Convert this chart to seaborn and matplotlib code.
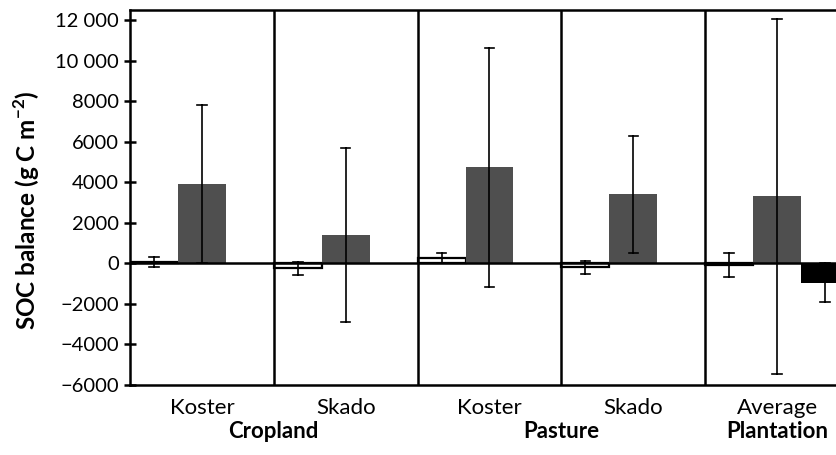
import numpy as np
import pandas as pd
import matplotlib
matplotlib.use("Agg")
import matplotlib.pyplot as plt
import seaborn as sns

# bar groups (x categories) and their labels
sites = ['Cropland Koster', 'Cropland Skado', 'Pasture Koster', 'Pasture Skado', 'Plantation Average']
site_labels = ['Koster', 'Skado', 'Koster', 'Skado', 'Average']
land_uses = ['Cropland', 'Pasture', 'Plantation']
land_use_pos = [0.5, 2.5, 4.0]

series = ['white', 'gray', 'black']
# mean values (g C m-2), NaN = no bar
white_vals = [50, -250, 250, -200, -80]
white_err = [250, 300, 250, 330, 600]
gray_vals = [3900, 1400, 4750, 3400, 3300]
gray_err = [3900, 4300, 5900, 2900, 8750]
black_vals = [np.nan, np.nan, np.nan, np.nan, -950]
black_err = [np.nan, np.nan, np.nan, np.nan, 960]

yticks = [-6000, -4000, -2000, 0, 2000, 4000, 6000, 8000, 10000, 12000]

# long form table: two rows per bar (mean - err, mean + err) so the
# mean gives the bar and min/max give the error bar
rows = []
for name, vals, errs in [('white', white_vals, white_err),
                         ('gray', gray_vals, gray_err),
                         ('black', black_vals, black_err)]:
    for s, v, e in zip(sites, vals, errs):
        if np.isnan(v):
            continue
        rows.append({'site': s, 'series': name, 'value': v - e})
        rows.append({'site': s, 'series': name, 'value': v + e})
df = pd.DataFrame(rows)

plt.rcParams['font.family'] = ['Lato', 'DejaVu Sans']
plt.rcParams['mathtext.fontset'] = 'custom'
plt.rcParams['mathtext.rm'] = 'Lato'
plt.rcParams['mathtext.bf'] = 'Lato:bold'

fig = plt.figure(figsize=(8.37, 4.55), dpi=100)
ax = fig.add_axes([130 / 837, 1 - 385 / 455, 719 / 837, 375 / 455])

sns.barplot(data=df, x='site', y='value', hue='series', order=sites,
            hue_order=series,
            palette={'white': 'white', 'gray': '#4f4f4f', 'black': 'black'},
            width=1, estimator='mean',
            errorbar=lambda v: (v.min(), v.max()),
            capsize=0.2, err_kws={'color': 'black', 'linewidth': 1.2},
            legend=False, ax=ax)

for bar in ax.containers[0]:
    bar.set_edgecolor('black')
    bar.set_linewidth(1.6)

ax.axhline(0, color='black', linewidth=1.8, zorder=5)
for xpos in [0.5, 1.5, 2.5, 3.5]:
    ax.axvline(xpos, color='black', linewidth=1.8, zorder=5)

ax.set_xlim(-0.5, 4.5)
ax.set_ylim(-6000, 12500)
ax.set_yticks(yticks)


def fmt(v):
    s = f'{abs(v):d}'
    if abs(v) >= 10000:
        s = s[:-3] + ' ' + s[-3:]
    return ('\u2212' if v < 0 else '') + s


ax.set_yticklabels([fmt(v) for v in yticks], fontsize=14.5)
ax.set_xticks(range(len(sites)))
ax.set_xticklabels(site_labels, fontsize=16)
ax.tick_params(axis='x', length=0, pad=9)
ax.tick_params(axis='y', direction='inout', length=8, width=1.8, pad=4)

for sp in ax.spines.values():
    sp.set_linewidth(1.8)
    sp.set_color('black')

ax.set_xlabel('')
ax.set_ylabel('SOC balance (g C m$^{\\mathbf{-2}}$)', fontsize=17.5, fontweight='bold')
ax.yaxis.label.set(rotation_mode='default', ha='center', va='center')
ax.yaxis.set_label_coords(-0.143, 0.467)

for name, xpos in zip(land_uses, land_use_pos):
    ax.annotate(name, xy=(xpos, 0), xycoords=ax.get_xaxis_transform(),
                xytext=(0, -38.5), textcoords='offset points',
                ha='center', va='baseline', fontsize=16, fontweight='bold')

fig.savefig('out.png', dpi=100)
